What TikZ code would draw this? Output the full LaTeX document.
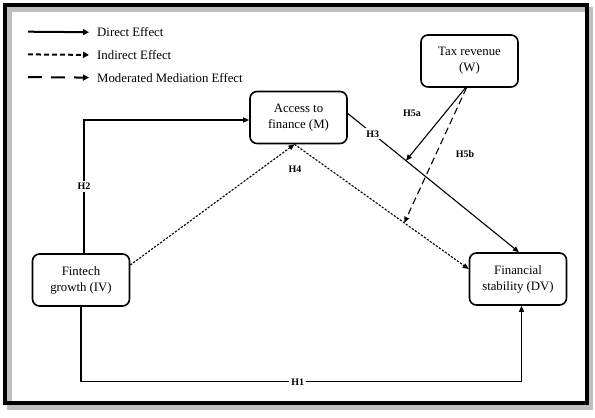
\documentclass[tikz,border=0pt]{standalone}
\usepackage{fontspec}
\setmainfont{Liberation Serif}
\usetikzlibrary{arrows.meta,calc}
\tikzset{%
	var box/.style={
		rectangle,
		rounded corners=7pt,
		draw=black,
		line width=1.6pt,
		minimum width=97pt,
		minimum height=52pt,
		align=center,
		font=\fontsize{12.8}{16}\selectfont
	},
	hyp label/.style={font=\fontsize{10}{10}\selectfont\bfseries, fill=white, inner sep=2pt},
	legend text/.style={font=\fontsize{12.8}{14}\selectfont, anchor=west, inner sep=0pt},
	direct/.style={line width=1.1pt, -{Triangle[length=6pt,width=5pt]}},
	indirect/.style={direct, dash pattern=on 2.2pt off 1.5pt},
	moderated/.style={direct, dash pattern=on 7pt off 4pt},
	legend direct/.style={line width=2pt, -{Triangle[length=6pt,width=6pt]}},
	legend indirect/.style={legend direct, dash pattern=on 5pt off 3pt},
	legend moderated/.style={legend direct, dash pattern=on 14pt off 9pt},
}
\begin{document}
\begin{tikzpicture}[x=1pt,y=-1pt]
		\useasboundingbox (0,0) rectangle (595,418);
		% Frame
		\draw[line width=5pt, black!25] (9,9) rectangle (590,407);
		\draw[line width=4pt] (5,5) rectangle (587,403);
		
		% Legend
		\foreach \s/\t [count=\y] in {direct/Direct Effect,indirect/Indirect Effect,moderated/Moderated Mediation Effect}
		{
			\node[legend text] (legend-\y) at (97,9.5+22.7*\y) {\t};
			\coordinate (legend-start-\y) at (28,9+22.7*\y);
			\draw[legend \s] (legend-start-\y) -- ([xshift=-8pt]legend-\y.west);
		}
		
		% Variables
		\node[var box] (fintech) at (81,280) {Fintech\\growth (IV)};
		\node[var box] (access) at (298.5,117.5) {Access to\\finance (M)};
		\node[var box] (tax) at (469.5,61) {Tax revenue\\(W)};
		\node[var box] (stability) at (518,279) {Financial\\stability (DV)};
		
		% Edges
		\draw[direct] ([xshift=3pt]fintech.north) |- node[hyp label, pos=0.25] {H2} ([yshift=-2.5pt]access.west);
		\draw[direct] (fintech.south) -- ++(0,75) -| node[hyp label, pos=0.246] {H1} ([xshift=3.5pt]stability.south);
		\draw[indirect] ([yshift=15pt]fintech.east) -- ([xshift=-4pt]access.south);
		\draw[indirect] ([xshift=-4pt]access.south) -- coordinate[pos=0.63] (indirect-mid) ([yshift=10pt]stability.west);
		\draw[direct] ([yshift=4pt]access.east) -- node[hyp label, pos=0.146] {H3} coordinate[pos=0.34] (h3-mid) ([xshift=1pt]stability.north);
		\draw[direct] ([xshift=-4pt]tax.south) -- (h3-mid);
		\draw[moderated] ([xshift=-3pt]tax.south) -- (indirect-mid);
		
		% Labels
		\node[hyp label] (h4) at (295,169) {H4};
		\node[hyp label] (h5a) at (412,113) {H5a};
		\node[hyp label] (h5b) at (465,154) {H5b};
\end{tikzpicture}
\end{document}
